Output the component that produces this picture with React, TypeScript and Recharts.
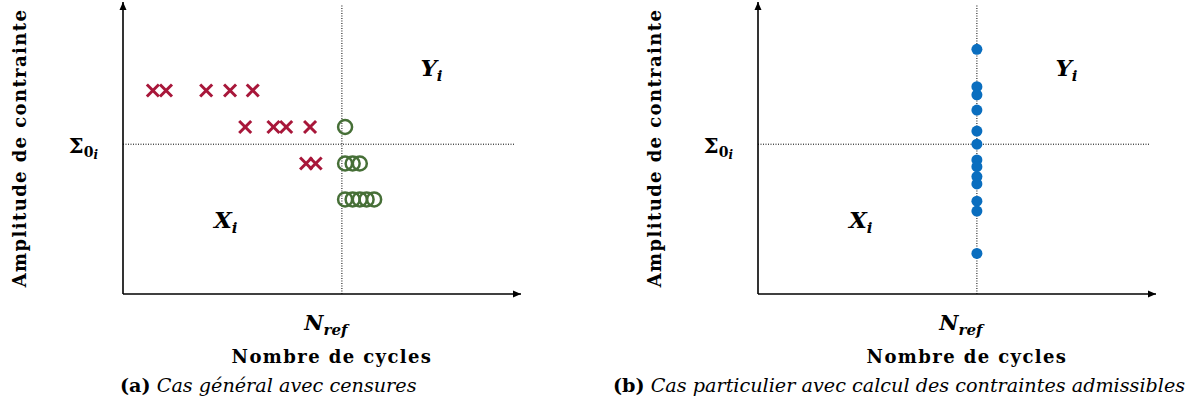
import React from 'react'
import { ScatterChart, Scatter, XAxis, YAxis, ReferenceLine, ReferenceDot } from 'recharts'

// axes are qualitative: 0..100 on both
const nRef = 55
const sigma0 = 51.3

// (a) ruptures (crosses)
const ruptureCycles = [7.5, 10.8, 20.9, 26.9, 32.6, 30.7, 37.8, 41.0, 47.0, 46.0, 48.4]
const ruptureStress = [69.7, 69.7, 69.7, 69.7, 69.7, 57.2, 57.2, 57.2, 57.2, 44.7, 44.7]

// (a) censored runs (open circles)
const censoredCycles = [55.8, 55.8, 57.7, 59.5, 55.8, 57.7, 59.5, 61.2, 63.1]
const censoredStress = [57.2, 44.7, 44.7, 44.7, 32.4, 32.4, 32.4, 32.4, 32.4]

// (b) admissible stresses, all at N_ref
const admissibleStress = [83.8, 71.0, 68.2, 63.0, 55.8, 51.3, 45.9, 43.6, 40.2, 37.7, 31.8, 28.4, 13.9]

const rupturePoints = ruptureCycles.map((x, i) => ({ x, y: ruptureStress[i] }))
const censoredPoints = censoredCycles.map((x, i) => ({ x, y: censoredStress[i] }))
const admissiblePoints = admissibleStress.map(y => ({ x: nRef, y }))

const serif = '"DejaVu Serif", "Liberation Serif", serif'
const RED = '#a8173a'
const GREEN = '#466f37'
const BLUE = '#0a6ebf'

const Cross = (p: any) => {
  const { cx, cy } = p
  const s = 6
  return (
    <g stroke={RED} strokeWidth={3}>
      <line x1={cx - s} y1={cy - s} x2={cx + s} y2={cy + s} />
      <line x1={cx - s} y1={cy + s} x2={cx + s} y2={cy - s} />
    </g>
  )
}

const Ring = (p: any) => (
  <circle cx={p.cx} cy={p.cy} r={7} fill="none" stroke={GREEN} strokeWidth={2.5} />
)

const Dot = (p: any) => <circle cx={p.cx} cy={p.cy} r={5.5} fill={BLUE} />

const arrow = (dir: 'x' | 'y') => (p: any) => {
  const { x1, y1, x2, y2 } = p
  const head =
    dir === 'x'
      ? `${x2},${y2} ${x2 - 8},${y2 - 3.5} ${x2 - 8},${y2 + 3.5}`
      : `${x2},${y2} ${x2 - 3.5},${y2 + 8} ${x2 + 3.5},${y2 + 8}`
  return (
    <g>
      <line x1={x1} y1={y1} x2={x2} y2={y2} stroke="#000" strokeWidth={1.6} />
      <polygon points={head} fill="#000" />
    </g>
  )
}

const NrefTick = (p: any) => (
  <text x={p.x - 16} y={p.y + 36} textAnchor="middle" fontFamily={serif} fontWeight="bold" fontStyle="italic" fontSize={21} fill="#000">
    N
    <tspan fontSize={15} dy={5}>ref</tspan>
  </text>
)

const SigmaTick = (p: any) => (
  <text x={p.x} y={p.y + 9} textAnchor="end" fontFamily={serif} fontWeight="bold" fontSize={21} fill="#000">
    Σ
    <tspan fontSize={14} dy={4}>0</tspan>
    <tspan fontSize={12} fontStyle="italic" dy={2}>i</tspan>
  </text>
)

const region = (name: string) => (p: any) => {
  const { x, y } = p.viewBox
  return (
    <text x={x} y={y + 8} textAnchor="middle" fontFamily={serif} fontWeight="bold" fontStyle="italic" fontSize={23} fill="#000">
      {name}
      <tspan fontSize={15} dy={5}>i</tspan>
    </text>
  )
}

const titleProps = {
  textAnchor: 'middle' as const,
  fontFamily: serif,
  fontWeight: 'bold' as const,
  fontSize: 18,
  letterSpacing: 1.4,
  fill: '#000',
}

const xTitle = (p: any) => {
  const vb = p.viewBox
  return (
    <text x={vb.x + vb.width / 2 + 10} y={vb.y + 69} {...titleProps}>
      Nombre de cycles
    </text>
  )
}

const yTitle = (p: any) => {
  const vb = p.viewBox
  const x = vb.x - 96
  const y = vb.y + vb.height / 2
  return (
    <text x={x} y={y} transform={`rotate(-90, ${x}, ${y})`} {...titleProps}>
      Amplitude de contrainte
    </text>
  )
}

const frame = (id: string) => [
  <XAxis
    key={id + 'x'}
    type="number"
    dataKey="x"
    domain={[0, 100]}
    allowDataOverflow
    ticks={[nRef]}
    tick={<NrefTick />}
    tickLine={false}
    axisLine={false}
    height={1}
    tickSize={0}
    tickMargin={0}
    label={{ content: xTitle }}
  />,
  <YAxis
    key={id + 'y'}
    type="number"
    dataKey="y"
    domain={[0, 100]}
    allowDataOverflow
    ticks={[sigma0]}
    tick={<SigmaTick />}
    tickLine={false}
    axisLine={false}
    width={1}
    tickSize={0}
    tickMargin={25}
    label={{ content: yTitle }}
  />,
  <ReferenceLine key={id + 'v'} segment={[{ x: nRef, y: 0 }, { x: nRef, y: 99.3 }]} stroke="#000" strokeWidth={1} strokeDasharray="1 1.5" />,
  <ReferenceLine key={id + 'h'} segment={[{ x: 0, y: sigma0 }, { x: 98.5, y: sigma0 }]} stroke="#000" strokeWidth={1} strokeDasharray="1 1.5" />,
  <ReferenceLine key={id + 'ax'} segment={[{ x: 0, y: 0 }, { x: 100, y: 0 }]} shape={arrow('x')} />,
  <ReferenceLine key={id + 'ay'} segment={[{ x: 0, y: 0 }, { x: 0, y: 100 }]} shape={arrow('y')} />,
  <ReferenceDot key={id + 'Y'} x={77.5} y={77.4} r={0} stroke="none" label={{ content: region('Y') }} />,
  <ReferenceDot key={id + 'X'} x={25.8} y={25.3} r={0} stroke="none" label={{ content: region('X') }} />,
]

const captionStyle: React.CSSProperties = {
  position: 'absolute',
  top: 374,
  fontFamily: serif,
  fontSize: 19.2,
  whiteSpace: 'nowrap',
  color: '#000',
}

export default function App() {
  return (
    <div style={{ position: 'absolute', left: 0, top: 0, width: 1199, height: 407, background: '#fff', overflow: 'hidden' }}>
      <div style={{ position: 'absolute', left: 0, top: 0 }}>
        <ScatterChart width={600} height={407} margin={{ top: 2, right: 79, bottom: 112, left: 122 }}>
          {frame('a')}
          <Scatter data={rupturePoints} shape={Cross} isAnimationActive={false} />
          <Scatter data={censoredPoints} shape={Ring} isAnimationActive={false} />
        </ScatterChart>
      </div>
      <div style={{ position: 'absolute', left: 635, top: 0 }}>
        <ScatterChart width={564} height={407} margin={{ top: 2, right: 43, bottom: 112, left: 122 }}>
          {frame('b')}
          <Scatter data={admissiblePoints} shape={Dot} isAnimationActive={false} />
        </ScatterChart>
      </div>
      <div style={{ ...captionStyle, left: 120 }}>
        <b>(a)</b> <i>Cas général avec censures</i>
      </div>
      <div style={{ ...captionStyle, left: 613 }}>
        <b>(b)</b> <i>Cas particulier avec calcul des contraintes admissibles</i>
      </div>
    </div>
  )
}
